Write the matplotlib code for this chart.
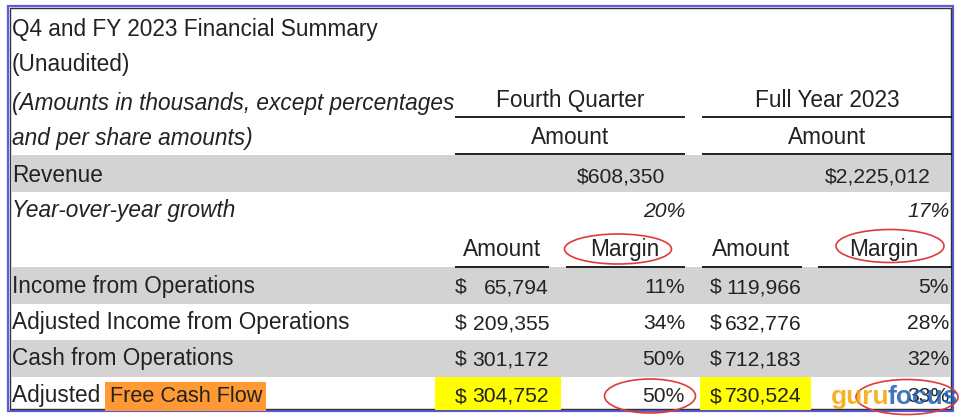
import matplotlib.pyplot as plt
from matplotlib.patches import Rectangle, Ellipse

# table data
title = 'Q4 and FY 2023 Financial Summary'
subtitle = '(Unaudited)'
note = ['(Amounts in thousands, except percentages', 'and per share amounts)']
periods = ['Fourth Quarter', 'Full Year 2023']
revenue = [608350, 2225012]
yoy_growth = [20, 17]
row_labels = ['Income from Operations', 'Adjusted Income from Operations',
              'Cash from Operations', 'Adjusted Free Cash Flow']
q4_amount = [65794, 209355, 301172, 304752]
q4_margin = [11, 34, 50, 50]
fy_amount = [119966, 632776, 712183, 730524]
fy_margin = [5, 28, 32, 33]
highlight_phrase = 'Free Cash Flow'

TXT = '#222222'
GRAY = '#d3d3d3'
FS = 16.3   # words
FN = 15.2   # figures
plt.rcParams['font.family'] = ['Liberation Sans', 'DejaVu Sans']

fig = plt.figure(figsize=(9.59, 4.17), dpi=100)
ax = fig.add_axes([0, 0, 1, 1])
ax.set_xlim(0, 959)
ax.set_ylim(417, 0)
ax.axis('off')

def txt(x, y, s, ha='left', style='normal', fs=FS, **kw):
    return ax.text(x, y, s, ha=ha, va='baseline', fontsize=fs, color=TXT,
                   style=style, **kw)

def hline(x0, x1, y):
    ax.plot([x0, x1], [y, y], color='#111111', lw=1.3, solid_capstyle='butt')

# frame
ax.add_patch(Rectangle((8, 6), 945, 405, fill=False, ec='#5b5be0', lw=1.6))
ax.add_patch(Rectangle((10, 8), 941, 401, fill=False, ec='#333333', lw=1.0))

# shaded bands
for y0, y1 in [(155, 192), (267, 304), (340, 377)]:
    ax.add_patch(Rectangle((11, y0), 940, y1 - y0, color=GRAY, lw=0))

# yellow highlights in last row
ax.add_patch(Rectangle((435, 377), 126, 33, color='#ffff00', lw=0))
ax.add_patch(Rectangle((700, 377), 111, 33, color='#ffff00', lw=0))

# header
txt(12, 36, title)
txt(12, 71, subtitle)
txt(12, 110, note[0], style='italic')
txt(12, 145, note[1], style='italic')

group_x = [(455, 685), (702, 952)]
for (x0, x1), p in zip(group_x, periods):
    txt((x0 + x1) / 2, 107, p, ha='center')
    hline(x0, x1, 117)
    txt((x0 + x1) / 2, 144, 'Amount', ha='center')
    hline(x0, x1, 154)

# revenue rows
txt(12, 182, 'Revenue')
txt(12, 217, 'Year-over-year growth', style='italic')
for xr, v in zip([665, 931], revenue):
    txt(xr, 182, f'${v:,}', ha='right', fs=FN)
for xr, v in zip([685, 950], yoy_growth):
    txt(xr, 217, f'{v}%', ha='right', style='italic', fs=FN)

# sub headers
sub_cols = [(455, 549, 'Amount'), (566, 685, 'Margin'),
            (702, 802, 'Amount'), (818, 952, 'Margin')]
sub_cx = [502, 625, 751, 884]
for (x0, x1, s), cx in zip(sub_cols, sub_cx):
    txt(cx, 256, s, ha='center')
    hline(x0, x1, 267)

# body rows
renderer = fig.canvas.get_renderer()
row_y = [293, 329, 365, 402]
for i, y in enumerate(row_y):
    label = row_labels[i]
    if highlight_phrase in label:
        head = label[:label.index(highlight_phrase)]
        t = txt(12, y, head)
        x_end = ax.transData.inverted().transform(
            t.get_window_extent(renderer).corners()[-1])[0]
        txt(x_end + 3, y, highlight_phrase, fs=15.6,
            bbox=dict(boxstyle='square,pad=0.2', fc='#ff9933', ec='none'))
    else:
        txt(12, y, label)
    txt(455, y, '$', fs=FN)
    txt(549, y, f'{q4_amount[i]:,}', ha='right', fs=FN)
    txt(685, y, f'{q4_margin[i]}%', ha='right', fs=FN)
    txt(710, y, '$', fs=FN)
    txt(801, y, f'{fy_amount[i]:,}', ha='right', fs=FN)
    txt(949, y, f'{fy_margin[i]}%', ha='right', fs=FN)

# watermark
ax.text(831, 404, 'guru', fontsize=19, fontweight='bold', color='#f5a500',
        va='baseline', alpha=0.85)
ax.text(888, 404, 'focus', fontsize=19, fontweight='bold', color='#1f5fae',
        va='baseline', alpha=0.85)

# red annotation ellipses
for cx, cy, w, h in [(618, 249, 107, 30), (890, 246, 108, 33),
                     (650, 396, 91, 34), (907, 397, 102, 35)]:
    ax.add_patch(Ellipse((cx, cy), w, h, fill=False, ec='#e03a3a', lw=1.2,
                         clip_on=False))

fig.savefig('out.png', dpi=100)
